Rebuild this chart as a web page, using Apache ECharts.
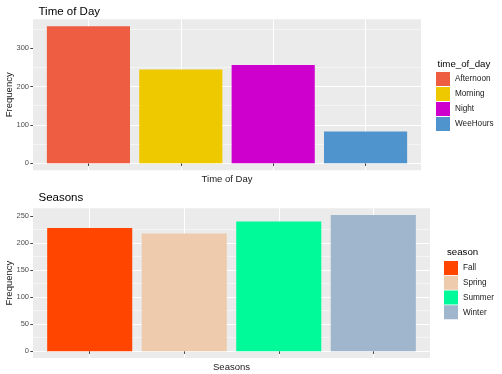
<!DOCTYPE html>
<html>
<head>
<meta charset="utf-8">
<script src="https://cdn.jsdelivr.net/npm/echarts@6/dist/echarts.min.js"></script>
<style>
html,body{margin:0;padding:0;background:#fff;}
#chart{width:502px;height:374px;}
</style>
</head>
<body>
<div id="chart"></div>
<script>
// ---- data ----
const timeCats = ['Afternoon', 'Morning', 'Night', 'WeeHours'];
const timeVals = [357, 244, 256, 83];
const timeColors = ['#EE5C42', '#EEC900', '#CD00CD', '#4F94CD'];
const timeTicks = [0, 100, 200, 300];

const seasonCats = ['Fall', 'Spring', 'Summer', 'Winter'];
const seasonVals = [228, 218, 240, 252];
const seasonColors = ['#FF4500', '#EECBAD', '#00FA9A', '#9FB6CD'];
const seasonTicks = [0, 50, 100, 150, 200, 250];

// ---- layout / style ----
const FONT = 'Liberation Sans, Arial, sans-serif';
const chart = echarts.init(document.getElementById('chart'), null, {renderer: 'canvas'});

const option = {
  animation: false,
  backgroundColor: '#ffffff',
  title: [], grid: [], xAxis: [], yAxis: [], series: [], legend: [], graphic: []
};

function addPanel(cfg) {
  const g0 = option.grid.length;
  const L = cfg.left, R = cfg.right, T = cfg.top, B = cfg.bottom;
  const W = R - L, H = B - T;
  const n = cfg.cats.length;
  const band = W / (n - 1 + 1.2);
  const vmax = Math.max.apply(null, cfg.vals);
  const top = vmax * 1.05, bot = -vmax * 0.05;
  const zeroH = H * top / (top - bot);

  // grid 0: panel background
  option.grid.push({left: L, top: T, width: W, height: H, show: true,
    backgroundColor: '#EBEBEB', borderWidth: 0, containLabel: false});
  option.xAxis.push({type: 'value', gridIndex: g0, show: false});
  option.yAxis.push({type: 'value', gridIndex: g0, show: false});

  // y-axis title
  option.graphic.push({type: 'text', x: cfg.yNameX, y: T + H / 2, rotation: Math.PI / 2,
    style: {text: 'Frequency', fontFamily: FONT, fontSize: 9.5, fill: '#1a1a1a',
      align: 'center', verticalAlign: 'middle'}});

  // grid 1: horizontal grid lines + y labels
  option.grid.push({left: L, top: T, width: W, height: zeroH, show: false});
  option.xAxis.push({type: 'value', gridIndex: g0 + 1, show: false});
  option.yAxis.push({type: 'value', gridIndex: g0 + 1, min: 0, max: top, interval: cfg.interval,
    axisLine: {show: false},
    axisTick: {show: true, length: 2.7, lineStyle: {color: '#444', width: 1}, customValues: cfg.ticks},
    axisLabel: {show: true, margin: 4, color: '#4D4D4D', fontFamily: FONT, fontSize: 7.5,
      customValues: cfg.ticks, hideOverlap: false},
    splitLine: {show: true, showMaxLine: false, lineStyle: {color: '#ffffff', width: 1}},
    minorTick: {show: false, splitNumber: 2},
    minorSplitLine: {show: true, lineStyle: {color: '#ffffff', width: 0.5}}
  });

  // grid 2: bars, vertical grid lines, x ticks, x name
  option.grid.push({left: L + 0.6 * band, top: T, width: W - 1.2 * band, height: H, show: false});
  option.xAxis.push({type: 'category', gridIndex: g0 + 2, data: cfg.cats, boundaryGap: false,
    axisLine: {show: false},
    axisTick: {show: true, length: 2.7, lineStyle: {color: '#444', width: 1}},
    axisLabel: {show: false},
    splitLine: {show: true, lineStyle: {color: '#ffffff', width: 1}},
    name: cfg.xName, nameLocation: 'middle', nameGap: 4,
    nameTextStyle: {fontFamily: FONT, fontSize: 9.5, color: '#1a1a1a'}});
  option.yAxis.push({type: 'value', gridIndex: g0 + 2, min: bot, max: top, show: false,
    splitLine: {show: false}});

  cfg.cats.forEach((c, i) => {
    option.series.push({
      type: 'bar', name: c, xAxisIndex: g0 + 2, yAxisIndex: g0 + 2,
      barWidth: '90%', barGap: '-100%',
      itemStyle: {color: cfg.colors[i]},
      data: cfg.cats.map((cc, j) => j === i ? cfg.vals[i] : '-')
    });
  });

  option.title.push({text: cfg.title, left: L + 0.5, top: cfg.titleTop,
    textStyle: {fontFamily: FONT, fontSize: 11.5, fontWeight: 'normal', color: '#000'}});
  option.title.push({text: cfg.legendTitle, left: cfg.legendTitleLeft, top: cfg.legendTitleTop,
    textStyle: {fontFamily: FONT, fontSize: 9.7, fontWeight: 'normal', color: '#000'}});
  option.legend.push({data: cfg.cats, orient: 'vertical', left: cfg.legendLeft, top: cfg.legendTop,
    icon: 'rect', itemWidth: 14, itemHeight: 14, itemGap: cfg.legendGap, padding: 0,
    selectedMode: false,
    textStyle: {fontFamily: FONT, fontSize: 8.2, color: '#1a1a1a'}});
}

addPanel({cats: timeCats, vals: timeVals, colors: timeColors, ticks: timeTicks, interval: 100,
  left: 33, right: 421, top: 19.3, bottom: 170.2, yNameX: 9,
  title: 'Time of Day', titleTop: 0.5, xName: 'Time of Day',
  legendTitle: 'time_of_day', legendTitleLeft: 432.5, legendTitleTop: 54,
  legendLeft: 436, legendTop: 72, legendGap: 1});

addPanel({cats: seasonCats, vals: seasonVals, colors: seasonColors, ticks: seasonTicks, interval: 50,
  left: 33, right: 430, top: 208.3, bottom: 358, yNameX: 9,
  title: 'Seasons', titleTop: 187, xName: 'Seasons',
  legendTitle: 'season', legendTitleLeft: 442, legendTitleTop: 242,
  legendLeft: 444, legendTop: 261, legendGap: 0.75});

chart.setOption(option);
</script>
</body>
</html>
